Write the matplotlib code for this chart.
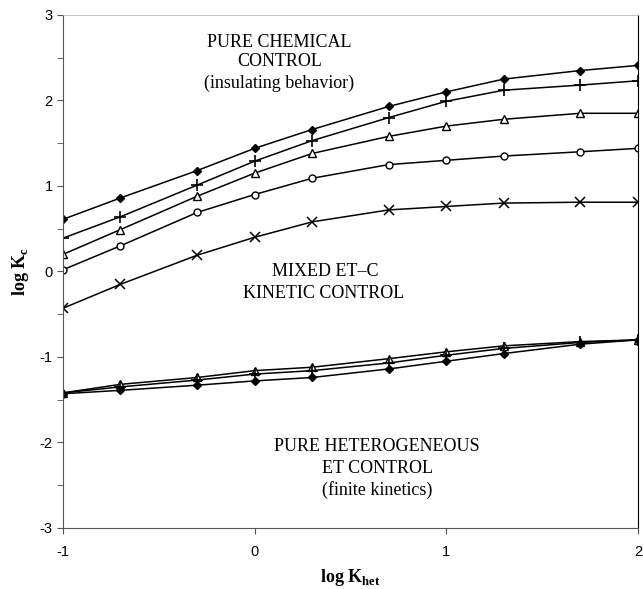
import matplotlib
matplotlib.use("Agg")
import matplotlib.pyplot as plt
from matplotlib.ticker import MultipleLocator

plt.rcParams["font.family"] = ["Liberation Sans", "DejaVu Sans"]
plt.rcParams["axes.unicode_minus"] = False
plt.rcParams["mathtext.fontset"] = "custom"
plt.rcParams["mathtext.bf"] = "Liberation Serif:bold"
plt.rcParams["mathtext.rm"] = "Liberation Serif"

# log K_het values
log_khet = [-1, -0.7, -0.3, 0, 0.3, 0.7, 1, 1.3, 1.7, 2]

# upper family (mixed / chemical control)
up_diamond = [0.61, 0.86, 1.18, 1.44, 1.66, 1.93, 2.10, 2.25, 2.35, 2.41]
up_plus = [0.39, 0.64, 1.01, 1.29, 1.53, 1.80, 1.99, 2.12, 2.18, 2.23]
up_triangle = [0.20, 0.49, 0.88, 1.15, 1.38, 1.58, 1.70, 1.78, 1.85, 1.85]
up_circle = [0.02, 0.30, 0.69, 0.90, 1.09, 1.25, 1.30, 1.35, 1.40, 1.44]
up_cross = [-0.43, -0.15, 0.19, 0.40, 0.58, 0.72, 0.76, 0.80, 0.81, 0.81]

# lower family (heterogeneous ET control)
lo_triangle = [-1.42, -1.32, -1.24, -1.16, -1.12, -1.02, -0.94, -0.87, -0.82, -0.80]
lo_plus = [-1.42, -1.35, -1.27, -1.20, -1.16, -1.07, -0.98, -0.90, -0.83, -0.80]
lo_diamond = [-1.43, -1.39, -1.33, -1.28, -1.24, -1.14, -1.05, -0.96, -0.85, -0.80]

fig = plt.figure(figsize=(6.43, 5.89), dpi=100)
ax = fig.add_axes([0.098, 0.1036, 0.894, 0.871])

kw = dict(color="black", lw=1.1, mfc="black", mec="black")
ax.plot(log_khet, up_diamond, marker="D", ms=4.5, **kw)
ax.plot(log_khet, up_plus, marker="+", ms=8, mew=1.2, **kw)
ax.plot(log_khet, up_triangle, marker="^", ms=5.5, **{**kw, "mfc": "white"})
ax.plot(log_khet, up_circle, marker="o", ms=5, **{**kw, "mfc": "white"})
ax.plot(log_khet, up_cross, marker="x", ms=6.5, mew=1.1, **kw)

ax.plot(log_khet, lo_triangle, marker="^", ms=5.5, **{**kw, "mfc": "white"})
ax.plot(log_khet, lo_plus, marker="+", ms=8, mew=1.2, **kw)
ax.plot(log_khet, lo_diamond, marker="D", ms=4.5, **kw)

ax.set_xlim(-1, 2)
ax.set_ylim(-3, 3)
ax.xaxis.set_major_locator(MultipleLocator(1))
ax.yaxis.set_major_locator(MultipleLocator(1))
ax.yaxis.set_minor_locator(MultipleLocator(0.5))
ax.tick_params(which="both", direction="out", colors="#555555", labelcolor="black",
               labelsize=10.5, length=4)
ax.tick_params(axis="x", pad=8)

for s in ["left", "bottom"]:
    ax.spines[s].set_color("#555555")
ax.spines["right"].set_color("black")
ax.spines["top"].set_color("#bbbbbb")
ax.spines["top"].set_linewidth(0.6)

serif = "Liberation Serif"
ax.set_xlabel(r"log K$_{\mathbf{het}}$", fontsize=13, fontweight="bold", family=serif, labelpad=6)
ax.set_ylabel(r"log K$_{\mathbf{c}}$", fontsize=13, fontweight="bold", family=serif, labelpad=6)

tkw = dict(ha="center", va="center", fontsize=13, family=serif)
ax.text(0.13, 2.68, "PURE CHEMICAL", **tkw)
ax.text(0.13, 2.45, "CONTROL", **tkw)
ax.text(0.13, 2.20, "(insulating behavior)", **tkw)
ax.text(0.37, 0.0, "MIXED ET\u2013C", **tkw)
ax.text(0.36, -0.26, "KINETIC CONTROL", **tkw)
ax.text(0.64, -2.05, "PURE HETEROGENEOUS", **tkw)
ax.text(0.64, -2.30, "ET CONTROL", **tkw)
ax.text(0.64, -2.56, "(finite kinetics)", **tkw)

fig.savefig("out.png", dpi=100)
